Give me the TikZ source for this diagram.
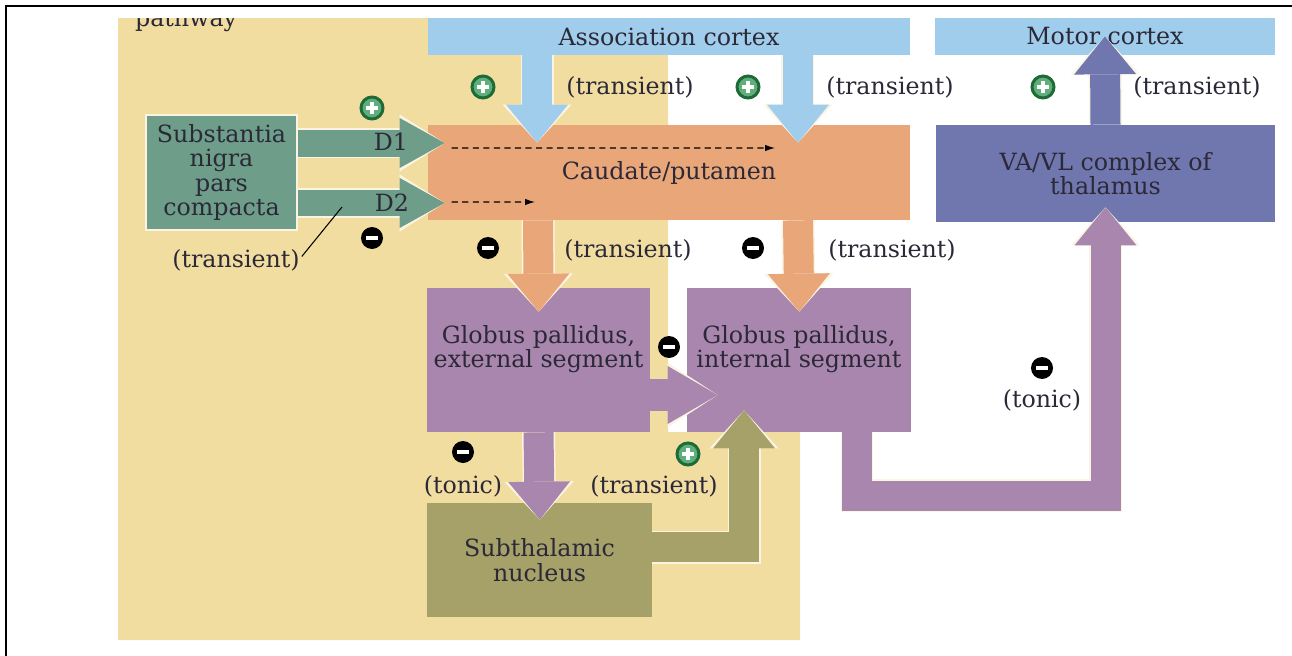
\documentclass[tikz,border=0pt]{standalone}
\usepackage{fontspec}
\setmainfont{DejaVu Serif}
\usepackage{xcolor}
\usepackage{tikz}
\usetikzlibrary{arrows.meta,positioning}
\definecolor{pathtan}{HTML}{F2DDA1}
\definecolor{cortexblue}{HTML}{9FCDEB}
\definecolor{striatorange}{HTML}{E8A679}
\definecolor{pallidpurple}{HTML}{A986AD}
\definecolor{thalblue}{HTML}{6F77AE}
\definecolor{stnolive}{HTML}{A6A169}
\definecolor{nigragreen}{HTML}{6E9E8A}
\definecolor{inkdark}{HTML}{2B2838}
\definecolor{paleedge}{HTML}{FBF4E2}
\definecolor{plusgreen}{HTML}{1E6B37}
\definecolor{plusfill}{HTML}{5FAE7C}
\tikzset{
  areabox/.style={inner sep=2pt,font=\fontsize{13.5}{14}\selectfont,text=inkdark,align=center},
  boxtext/.style={inner sep=1pt,font=\fontsize{13.5}{14}\selectfont,text=inkdark,align=center},
  notelabel/.style={inner sep=1pt,font=\fontsize{13.5}{14}\selectfont,text=inkdark},
  fatarrow/.style={draw=#1,line width=0.6cm,-{Triangle[length=0.76cm,width=1.24cm,line width=0pt]},
    preaction={draw=paleedge,line width=0.66cm,-{Triangle[length=0.76cm,width=1.38cm,line width=0pt]}}},
  nigraarrow/.style={draw=nigragreen,line width=0.54cm,-{Triangle[length=0.9cm,width=1.0cm,line width=0pt]},
    preaction={draw=paleedge,line width=0.6cm,-{Triangle[length=0.9cm,width=1.14cm,line width=0pt]}}},
  crossarrow/.style={draw=pallidpurple,line width=0.64cm,-{Triangle[length=1.0cm,width=1.16cm,line width=0pt]},
    preaction={draw=paleedge,line width=0.64cm,-{Triangle[length=1.0cm,width=1.3cm,line width=0pt]}}},
  dashflow/.style={draw=black,line width=0.7pt,dash pattern=on 3.5pt off 2.5pt,-{Latex[length=2mm,width=1.3mm]}},
  plusmark/.style={circle,draw=plusgreen,line width=0.06cm,fill=plusfill,minimum size=0.44cm,inner sep=0pt,
    path picture={\draw[white,line width=0.08cm] ([xshift=-0.12cm]path picture bounding box.center) -- ([xshift=0.12cm]path picture bounding box.center)
      ([yshift=-0.12cm]path picture bounding box.center) -- ([yshift=0.12cm]path picture bounding box.center);}},
  minusmark/.style={circle,fill=black,minimum size=0.44cm,inner sep=0pt,
    path picture={\draw[white,line width=0.08cm] ([xshift=-0.12cm]path picture bounding box.center) -- ([xshift=0.12cm]path picture bounding box.center);}},
}
\begin{document}
\begin{tikzpicture}[x=0.02cm,y=-0.02cm]
\useasboundingbox (0,0) rectangle (1292,656);
% pathway backdrop
\fill[pathtan] (118,18) -- (668,18) -- (668,432) -- (800,432) -- (800,640) -- (118,640) -- cycle;
\begin{scope}
  \clip (118,18) rectangle (668,640);
  \node[notelabel,anchor=base west] (pathway) at (133,26) {pathway};
\end{scope}
\draw[line width=0.05cm] (6,656) -- (6,6) -- (1292,6);

% regions
\node[areabox,fill=cortexblue,minimum width=9.64cm,minimum height=0.74cm] (assoc) at (669,36.5) {Association cortex};
\node[areabox,fill=cortexblue,minimum width=6.8cm,minimum height=0.74cm] (motor) at (1105,36.5) {Motor cortex};
\node[areabox,fill=striatorange,minimum width=9.64cm,minimum height=1.9cm] (caud) at (669,172.5) {Caudate/putamen};
\node[areabox,fill=thalblue,minimum width=6.78cm,minimum height=1.94cm] (thal) at (1105.5,173.5) {VA/VL complex of\\thalamus};
\node[areabox,fill=nigragreen,draw=paleedge,line width=0.03cm,minimum width=3.02cm,minimum height=2.3cm] (snc) at (221.5,172.5) {Substantia\\nigra\\pars\\compacta};
\node[fill=pallidpurple,minimum width=4.46cm,minimum height=2.88cm] (gpe) at (538.5,360) {};
\node[fill=pallidpurple,minimum width=4.48cm,minimum height=2.88cm] (gpi) at (799,360) {};
\node[areabox,fill=stnolive,minimum width=4.5cm,minimum height=2.28cm] (stn) at (539.5,560) {Subthalamic\\nucleus};

% projections
\draw[fatarrow=cortexblue,shorten >=-0.36cm] ([xshift=-2.64cm]assoc.south) -- ([xshift=-2.64cm]caud.north);
\draw[fatarrow=cortexblue,shorten >=-0.36cm] ([xshift=2.58cm]assoc.south) -- ([xshift=2.58cm]caud.north);
\draw[nigraarrow,shorten >=-0.34cm] ([yshift=0.59cm]snc.east) -- ([yshift=0.59cm]caud.west);
\draw[nigraarrow,shorten >=-0.34cm] ([yshift=-0.61cm]snc.east) -- ([yshift=-0.61cm]caud.west);
\draw[fatarrow=striatorange,shorten >=-0.48cm] ([xshift=-2.62cm]caud.south) -- (gpe.north);
\draw[fatarrow=striatorange,shorten >=-0.48cm] ([xshift=2.58cm]caud.south) -- (gpi.north);
\draw[crossarrow,shorten >=-0.62cm] ([yshift=-0.7cm]gpe.east) -- ([yshift=-0.7cm]gpi.west);
\draw[fatarrow=pallidpurple,shorten >=-0.34cm] (gpe.south) -- (stn.north);
\draw[fatarrow=stnolive,shorten >=-0.44cm] ([yshift=0.26cm]stn.east) -| ([xshift=-1.1cm]gpi.south);
\draw[fatarrow=pallidpurple,shorten >=-0.3cm] ([xshift=1.16cm]gpi.south) -- ++(0,63.5) -| (thal.south);
\draw[fatarrow=thalblue,shorten >=-0.38cm] (thal.north) -- (motor.south);

% dopamine effect inside striatum
\coordinate (d1end) at (775,148);
\coordinate (d2end) at (535,202);
\draw[dashflow] ([xshift=0.48cm,yshift=0.49cm]caud.west) -- (d1end);
\draw[dashflow] ([xshift=0.48cm,yshift=-0.59cm]caud.west) -- (d2end);

% pallidal texts
\node[boxtext] (gpetext) at ([yshift=0.22cm]gpe.center) {Globus pallidus,\\external segment};
\node[boxtext] (gpitext) at ([yshift=0.22cm]gpi.center) {Globus pallidus,\\internal segment};
\node[notelabel] (d1lbl) at (391,142) {D1};
\node[notelabel] (d2lbl) at (392,203) {D2};

% signs
\node[plusmark] (plusA) at (483,87) {};
\node[notelabel] (transA) at (630,87) {(transient)};
\node[plusmark] (plusB) at (748,87) {};
\node[notelabel] (transB) at (890,87) {(transient)};
\node[plusmark] (plusC) at (1043,87) {};
\node[notelabel] (transC) at (1197,87) {(transient)};
\node[plusmark] (plusD1) at (372,108) {};
\node[minusmark] (minusD2) at (372,238) {};
\node[notelabel] (sncnote) at (236,260) {(transient)};
\coordinate (d2point) at (342,207);
\draw[line width=0.6pt] ([yshift=2pt]sncnote.east) -- (d2point);
\node[minusmark] (minusA) at (488,248) {};
\node[notelabel] (transD) at (628,250) {(transient)};
\node[minusmark] (minusB) at (753,248) {};
\node[notelabel] (transE) at (892,250) {(transient)};
\node[minusmark] (minusGP) at (669,347) {};
\node[minusmark] (minusC) at (463,452) {};
\node[notelabel] (tonicA) at (463,486) {(tonic)};
\node[plusmark] (plusE) at (688,454) {};
\node[notelabel] (transF) at (654,486) {(transient)};
\node[minusmark] (minusD) at (1042,368) {};
\node[notelabel] (tonicB) at (1042,400) {(tonic)};
\end{tikzpicture}
\end{document}
